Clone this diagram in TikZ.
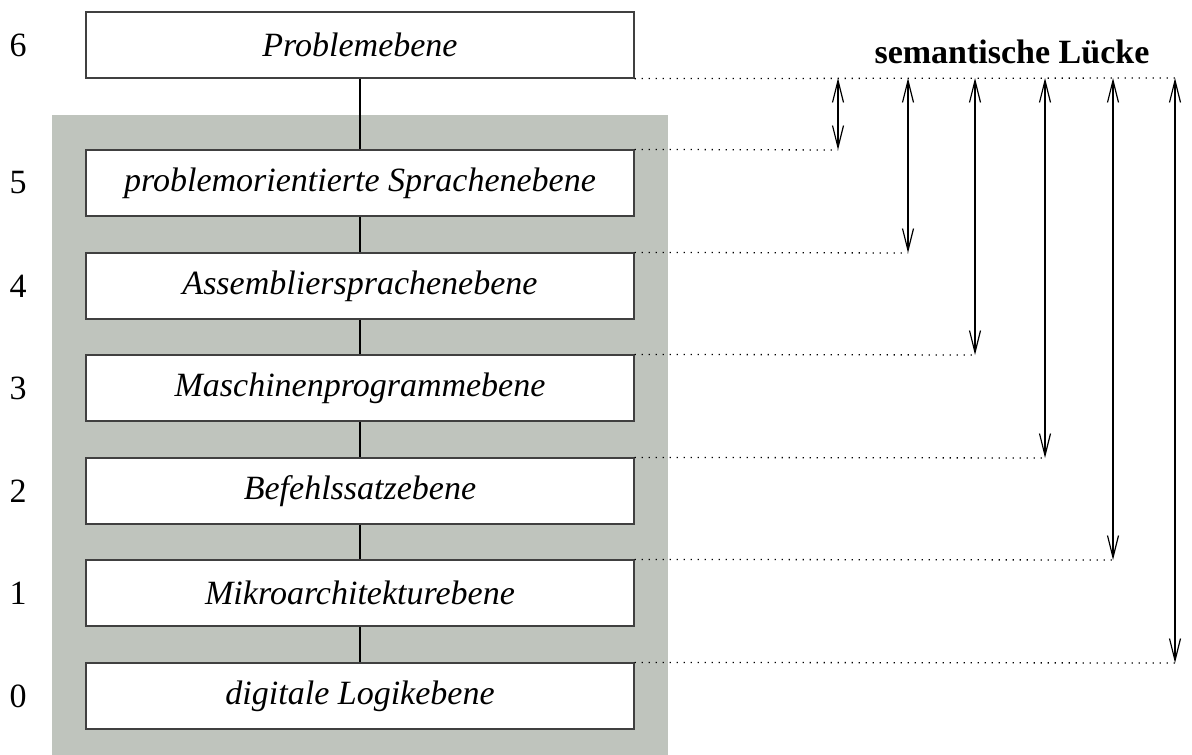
\documentclass[tikz,border=0pt]{standalone}
\usepackage{fontspec}
\setmainfont{Liberation Serif}
\usetikzlibrary{arrows.meta}
\begin{document}
\begin{tikzpicture}[x=1pt,y=-1pt,
  level/.style={draw=black!75,line width=1.2pt,fill=white,minimum width=548pt,minimum height=66pt,inner sep=0pt,font=\fontsize{34}{40}\selectfont\itshape},
  num/.style={font=\fontsize{34}{40}\selectfont},
  link/.style={line width=1.1pt},
  guide/.style={line width=1.3pt,dash pattern=on 1.3pt off 5.7pt},
  gap/.style={line width=1.1pt,{Straight Barb[length=22pt,width=11pt,line width=1.2pt]}-{Straight Barb[length=22pt,width=11pt,line width=1.2pt]}}]
\useasboundingbox (0,0) rectangle (1192,755);
\fill[fill={rgb,255:red,191;green,196;blue,189}] (52,115) rectangle (668,755);
\node[level] (l6) at (360,45) {Problemebene};
\node[level] (l5) at (360,183) {problemorientierte Sprachenebene};
\node[level] (l4) at (360,286) {Assembliersprachenebene};
\node[level] (l3) at (360,388) {Maschinenprogrammebene};
\node[level] (l2) at (360,491) {Befehlssatzebene};
\node[level] (l1) at (360,593) {Mikroarchitekturebene};
\node[level] (l0) at (360,696) {digitale Logikebene};
\node[num] (n6) at (18,45) {6};
\node[num] (n5) at (18,183) {5};
\node[num] (n4) at (18,286) {4};
\node[num] (n3) at (18,388) {3};
\node[num] (n2) at (18,491) {2};
\node[num] (n1) at (18,593) {1};
\node[num] (n0) at (18,696) {0};
\draw[link] (l6.south) -- (l5.north);
\draw[link] (l5.south) -- (l4.north);
\draw[link] (l4.south) -- (l3.north);
\draw[link] (l3.south) -- (l2.north);
\draw[link] (l2.south) -- (l1.north);
\draw[link] (l1.south) -- (l0.north);
\node[font=\fontsize{34}{40}\selectfont\bfseries] (title) at (1012,52) {semantische Lücke};
\coordinate (t6) at (1175,78);
\coordinate (b5) at (838,150);
\coordinate (b4) at (908,253);
\coordinate (b3) at (975,355);
\coordinate (b2) at (1045,458);
\coordinate (b1) at (1113,560);
\coordinate (b0) at (1175,663);
\draw[guide] (l6.south east) -- (t6);
\draw[guide] (l5.north east) -- (b5);
\draw[guide] (l4.north east) -- (b4);
\draw[guide] (l3.north east) -- (b3);
\draw[guide] (l2.north east) -- (b2);
\draw[guide] (l1.north east) -- (b1);
\draw[guide] (l0.north east) -- (b0);
\draw[gap] (b5 |- t6) -- (b5);
\draw[gap] (b4 |- t6) -- (b4);
\draw[gap] (b3 |- t6) -- (b3);
\draw[gap] (b2 |- t6) -- (b2);
\draw[gap] (b1 |- t6) -- (b1);
\draw[gap] (t6) -- (b0);
\end{tikzpicture}
\end{document}
